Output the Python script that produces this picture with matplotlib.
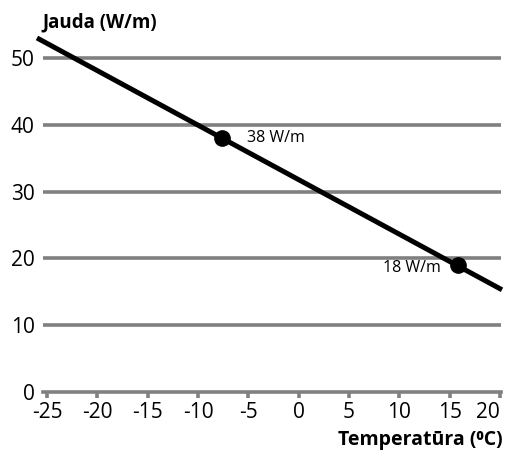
import matplotlib
matplotlib.use("Agg")
import matplotlib.pyplot as plt

plt.rcParams['font.family'] = ['Open Sans', 'DejaVu Sans']

# heat output line (temperature, W/m)
line_temp = [-26.0, 20.2]
line_power = [53.0, 15.3]

# marked design points
point_temp = [-7.6, 15.8]
point_power = [38.0, 19.0]
point_labels = ['38 W/m', '18 W/m']

x_ticks = [-25, -20, -15, -10, -5, 0, 5, 10, 15, 20]
y_ticks = [0, 10, 20, 30, 40, 50]

grey = '#808080'

fig = plt.figure(figsize=(5.08, 4.54), dpi=100)
ax = fig.add_axes([43 / 508, 1 - 392 / 454, 458 / 508, (392 - 34.6) / 454])

for y in y_ticks[1:]:
    ax.axhline(y, color=grey, lw=2.6, zorder=1)

ax.plot(line_temp, line_power, color='black', lw=3.6, clip_on=False, zorder=3,
        solid_capstyle='butt')
ax.plot(point_temp, point_power, 'o', color='black', ms=11, clip_on=False, zorder=4)

ax.annotate(point_labels[0], (point_temp[0], point_power[0]), xytext=(18, 0),
            textcoords='offset points', fontsize=11.5, va='center', ha='left')
ax.annotate(point_labels[1], (point_temp[1], point_power[1]), xytext=(-12, -2),
            textcoords='offset points', fontsize=11.5, va='center', ha='right')

ax.set_xlim(-25.4, 20.1)
ax.set_ylim(0, 53.5)
ax.set_xticks(x_ticks)
ax.set_xticklabels([str(v) for v in x_ticks])
ax.set_yticks(y_ticks)

for side in ['top', 'right', 'left']:
    ax.spines[side].set_visible(False)
ax.spines['bottom'].set_color(grey)
ax.spines['bottom'].set_linewidth(2.6)

ax.tick_params(axis='x', colors=grey, length=4, width=2.6, pad=3,
               labelsize=15, labelcolor='black')
ax.tick_params(axis='y', length=0, pad=6, labelsize=15, labelcolor='black')
ax.get_xticklabels()[-1].set_horizontalalignment('right')

# axis titles
ax.text(-1 / 458, 1 + 12.6 / (392 - 34.6), 'Jauda (W/m)', transform=ax.transAxes,
        fontsize=13.5, fontweight='bold', ha='left', va='center')
fig.text(503 / 508, 1 - 440 / 454, 'Temperatūra (⁰C)', fontsize=14,
         fontweight='bold', ha='right', va='center')

fig.savefig('out.png', dpi=100)
